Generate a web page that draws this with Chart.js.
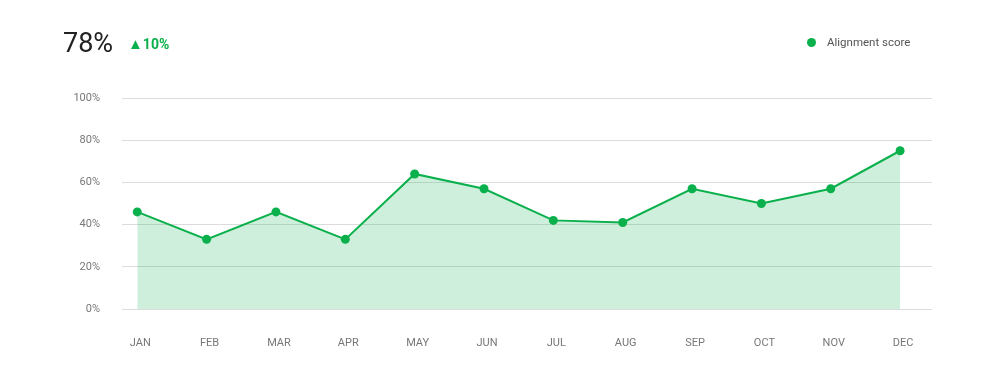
<!DOCTYPE html>
<html>
<head>
<meta charset="utf-8">
<script src="https://cdn.jsdelivr.net/npm/chart.js@4"></script>
<style>
  body { margin: 0; background: #fff; font-family: Roboto, sans-serif; }
  #wrap { position: relative; width: 993px; height: 387px; }
  #big { position: absolute; left: 63px; top: 27px; font-size: 27px; color: #222; }
  #delta { position: absolute; left: 128px; top: 35px; font-size: 14px; font-weight: bold; color: #0ab04b; }
  #delta .tri { font-size: 15px; }
  #legend { position: absolute; left: 807px; top: 35px; font-size: 11.5px; color: #555; }
  #legend span.dot { display: inline-block; width: 9px; height: 9px; border-radius: 50%; background: #0ab04b; margin-right: 11px; vertical-align: -1px; }
</style>
</head>
<body>
<div id="wrap">
  <canvas id="chart" width="993" height="387"></canvas>
  <div id="big">78%</div>
  <div id="delta"><span class="tri">▲</span>10%</div>
  <div id="legend"><span class="dot"></span>Alignment score</div>
</div>
<script>
// chart data
const months = ['JAN', 'FEB', 'MAR', 'APR', 'MAY', 'JUN', 'JUL', 'AUG', 'SEP', 'OCT', 'NOV', 'DEC'];
const scores = [46, 33, 46, 33, 64, 57, 42, 41, 57, 50, 57, 75];
const yTicks = [0, 20, 40, 60, 80, 100];

const green = '#0ab04b';

var ctx = document.getElementById('chart').getContext('2d');
new Chart(ctx, {
    type: 'line',
    data: {
        datasets: [{
            label: 'Alignment score',
            data: months.map((m, i) => ({ x: i, y: scores[i] })),
            borderColor: green,
            borderWidth: 2,
            backgroundColor: 'rgba(10,176,75,0.2)',
            fill: 'origin',
            tension: 0,
            pointRadius: 4.5,
            pointBackgroundColor: green,
            pointBorderWidth: 0
        }]
    },
    options: {
        responsive: false,
        animation: false,
        layout: { padding: { top: 98, right: 61, left: 0, bottom: 0 } },
        plugins: { legend: { display: false }, tooltip: { enabled: false } },
        scales: {
            x: {
                type: 'linear',
                min: -0.22,
                max: 11.46,
                grid: { display: false },
                border: { display: false },
                afterFit: function (scale) { scale.height = 78; },
                afterBuildTicks: function (scale) {
                    scale.ticks = months.map((m, i) => ({ value: i }));
                },
                ticks: {
                    padding: 20,
                    labelOffset: 3,
                    color: '#777',
                    font: { family: 'Roboto', size: 11 },
                    callback: function (v) { return months[v]; }
                }
            },
            y: {
                min: 0,
                max: 100,
                grid: { color: '#dcdcdc', drawTicks: false, lineWidth: 1 },
                border: { display: false },
                afterFit: function (scale) { scale.width = 122; },
                afterBuildTicks: function (scale) {
                    scale.ticks = yTicks.map(v => ({ value: v }));
                },
                ticks: {
                    padding: 22,
                    color: '#777',
                    font: { family: 'Roboto', size: 11 },
                    callback: function (v) { return v + '%'; }
                }
            }
        }
    }
});
</script>
</body>
</html>
